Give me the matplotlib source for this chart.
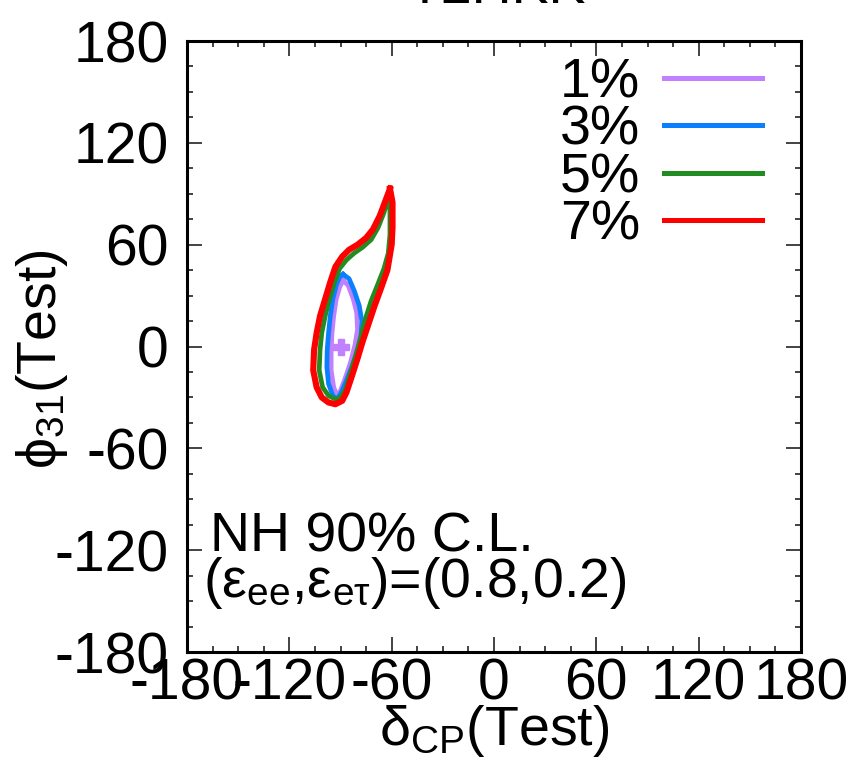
import matplotlib
matplotlib.use("Agg")
import matplotlib.pyplot as plt

plt.rcParams['font.family'] = ['Liberation Sans', 'DejaVu Sans']
plt.rcParams['mathtext.fontset'] = 'custom'
plt.rcParams['mathtext.rm'] = 'Liberation Sans'
plt.rcParams['mathtext.it'] = 'Liberation Sans'
plt.rcParams['mathtext.default'] = 'rm'
plt.rcParams['axes.unicode_minus'] = False

# Contornos 90% C.L. (delta_CP, phi_31) en grados
d_1 = [-88.5, -85.5, -82.5, -80.5, -80, -81.5, -84, -87, -90, -92, -94, -95.5,
       -95.5, -95, -94, -92.5, -90.5, -88.5]
p_1 = [39, 36, 28, 20, 10, 1, -9, -18, -26, -29, -24, -14, -3, 8, 18, 28, 35, 39]

d_3 = [-88.5, -85, -82, -79, -77.5, -78, -80, -83, -86.5, -89.5, -92, -94.5, -97,
       -98, -97.8, -97, -96, -94.5, -92.5, -90.5, -88.5]
p_3 = [42.5, 40, 33, 24, 15, 6, -3, -11, -20, -27, -31, -29, -22, -12, -2, 8, 18,
       28, 36, 41, 42.5]

d_5 = [-61.5, -61, -61, -62, -64.5, -68, -72, -75.5, -78, -81, -84, -87, -90, -93,
       -97, -100.5, -102.5, -102, -101, -99, -96.5, -93.5, -90.5, -86.5, -82, -77,
       -72, -68, -64.5, -61.5]
p_5 = [89, 80, 66, 55, 46, 37, 27, 16, 6, -5, -15, -25, -30, -31, -29, -24, -14, -2,
       8, 18, 28, 38, 46, 51, 55, 58.5, 63, 70, 79, 89]

d_7 = [-61, -59.5, -59.5, -60, -62.5, -66, -70, -74, -77, -80, -83.5, -86.5, -89,
       -93, -97, -101, -104, -106, -105.5, -104, -102, -99, -96, -93, -89, -85, -80,
       -75, -71, -67, -64, -61]
p_7 = [93, 85, 70, 60, 45, 35, 24, 12, 3, -7, -18, -27, -32, -34, -33, -30, -24, -14,
       -2, 8, 18, 28, 38, 47, 53, 57, 60, 64, 69, 77, 85, 93]

# Punto verdadero
d_true = [-90]
p_true = [0]

etiquetas = ['1%', '3%', '5%', '7%']
colores = ['#c080ff', '#0a80ff', '#228b22', '#ff0000']
anchos = [3.4, 3.4, 3.4, 4.4]

ticks = [-180, -120, -60, 0, 60, 120, 180]

fig = plt.figure(figsize=(8.59, 7.57), dpi=100)
ax = fig.add_axes([0.2177, 0.1387, 0.7148, 0.8071])

contornos = [(d_1, p_1), (d_3, p_3), (d_5, p_5), (d_7, p_7)]
for (d, p), lab, c, w in zip(contornos, etiquetas, colores, anchos):
    ax.plot(d, p, color=c, lw=w, label=lab, solid_joinstyle='round')

ax.plot(d_true, p_true, marker='P', color='#c080ff', markersize=11, ls='none')

ax.set_xlim(-180, 180)
ax.set_ylim(-180, 180)
ax.set_xticks(ticks)
ax.set_yticks(ticks)
ax.set_xticks(range(-180, 181, 15), minor=True)
ax.set_yticks(range(-180, 181, 15), minor=True)
ax.tick_params(which='both', direction='in', top=True, right=True, labelsize=41,
               width=1.2, color='#222222')
ax.tick_params(which='major', length=11)
ax.tick_params(which='minor', length=4.5)
ax.tick_params(axis='x', pad=4)
ax.tick_params(axis='y', pad=13)
for s in ax.spines.values():
    s.set_linewidth(2.2)

ax.set_xlabel(r'$\delta_{CP}$(Test)', fontsize=40, labelpad=-6)
ax.set_ylabel(r'$\phi_{31}$(Test)', fontsize=40)
ax.yaxis.set_label_coords(-0.19, 0.48)

ax.text(0.0375, 0.1637, 'NH 90% C.L.', transform=ax.transAxes, fontsize=40,
        va='baseline')
ax.text(0.026, 0.09, r'$(\epsilon_{ee}{,}\epsilon_{e\tau})$=(0.8,0.2)',
        transform=ax.transAxes, fontsize=40, va='baseline')

leg = ax.legend(loc='upper right', fontsize=40, frameon=False, markerfirst=False,
                handlelength=1.75, handletextpad=0.43, labelspacing=-0.08,
                borderaxespad=0.0, bbox_to_anchor=(0.972, 1.01))
for line in leg.get_lines():
    line.set_linewidth(3.6)

fig.text(0.5786, 0.996, 'T2HKK', fontsize=40, ha='center', va='baseline')

fig.savefig('out.png', dpi=100)
